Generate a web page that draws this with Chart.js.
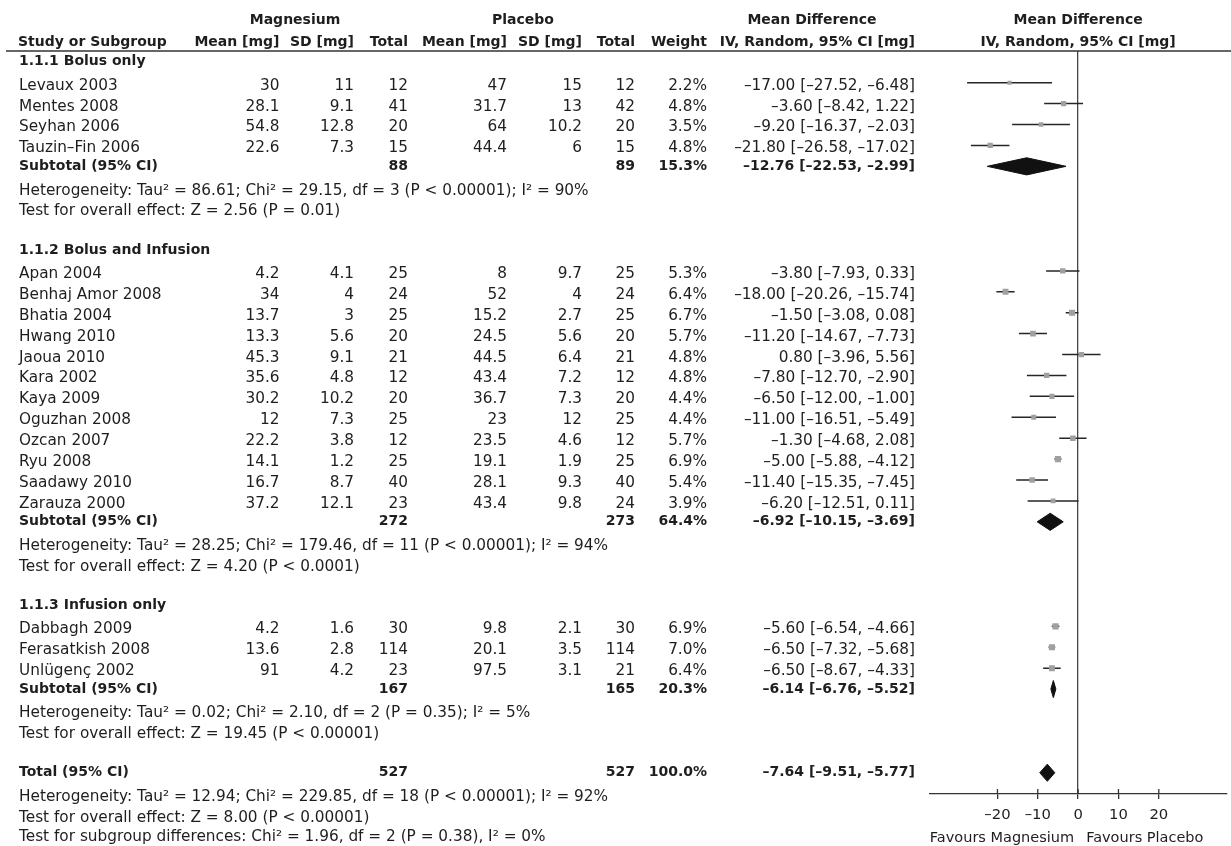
<!DOCTYPE html>
<html>
<head>
<meta charset="utf-8">
<script src="https://cdn.jsdelivr.net/npm/chart.js@4.4.1/dist/chart.umd.min.js"></script>
<style>
  html, body { margin: 0; padding: 0; background: #fff; }
  #forest { display: block; }
</style>
</head>
<body>
<canvas id="forest" width="1231" height="846"></canvas>
<script>
// --- data ---
const groupNames = ['1.1.1 Bolus only', '1.1.2 Bolus and Infusion', '1.1.3 Infusion only'];

const studies = ['Levaux 2003', 'Mentes 2008', 'Seyhan 2006', 'Tauzin–Fin 2006',
  'Apan 2004', 'Benhaj Amor 2008', 'Bhatia 2004', 'Hwang 2010', 'Jaoua 2010', 'Kara 2002',
  'Kaya 2009', 'Oguzhan 2008', 'Ozcan 2007', 'Ryu 2008', 'Saadawy 2010', 'Zarauza 2000',
  'Dabbagh 2009', 'Ferasatkish 2008', 'Unlügenç 2002'];
const studyGroup = [0, 0, 0, 0, 1, 1, 1, 1, 1, 1, 1, 1, 1, 1, 1, 1, 2, 2, 2];

const magMean = [30, 28.1, 54.8, 22.6, 4.2, 34, 13.7, 13.3, 45.3, 35.6, 30.2, 12, 22.2, 14.1, 16.7, 37.2, 4.2, 13.6, 91];
const magSD   = [11, 9.1, 12.8, 7.3, 4.1, 4, 3, 5.6, 9.1, 4.8, 10.2, 7.3, 3.8, 1.2, 8.7, 12.1, 1.6, 2.8, 4.2];
const magN    = [12, 41, 20, 15, 25, 24, 25, 20, 21, 12, 20, 25, 12, 25, 40, 23, 30, 114, 23];
const plaMean = [47, 31.7, 64, 44.4, 8, 52, 15.2, 24.5, 44.5, 43.4, 36.7, 23, 23.5, 19.1, 28.1, 43.4, 9.8, 20.1, 97.5];
const plaSD   = [15, 13, 10.2, 6, 9.7, 4, 2.7, 5.6, 6.4, 7.2, 7.3, 12, 4.6, 1.9, 9.3, 9.8, 2.1, 3.5, 3.1];
const plaN    = [12, 42, 20, 15, 25, 24, 25, 20, 21, 12, 20, 25, 12, 25, 40, 24, 30, 114, 21];
const weight  = [2.2, 4.8, 3.5, 4.8, 5.3, 6.4, 6.7, 5.7, 4.8, 4.8, 4.4, 4.4, 5.7, 6.9, 5.4, 3.9, 6.9, 7.0, 6.4];
const md      = [-17.00, -3.60, -9.20, -21.80, -3.80, -18.00, -1.50, -11.20, 0.80, -7.80, -6.50, -11.00, -1.30, -5.00, -11.40, -6.20, -5.60, -6.50, -6.50];
const ciLow   = [-27.52, -8.42, -16.37, -26.58, -7.93, -20.26, -3.08, -14.67, -3.96, -12.70, -12.00, -16.51, -4.68, -5.88, -15.35, -12.51, -6.54, -7.32, -8.67];
const ciHigh  = [-6.48, 1.22, -2.03, -17.02, 0.33, -15.74, 0.08, -7.73, 5.56, -2.90, -1.00, -5.49, 2.08, -4.12, -7.45, 0.11, -4.66, -5.68, -4.33];

const subMagN   = [88, 272, 167];
const subPlaN   = [89, 273, 165];
const subWeight = [15.3, 64.4, 20.3];
const subMD     = [-12.76, -6.92, -6.14];
const subLow    = [-22.53, -10.15, -6.76];
const subHigh   = [-2.99, -3.69, -5.52];
const subTau2   = [86.61, 28.25, 0.02];
const subChi2   = [29.15, 179.46, 2.10];
const subDf     = [3, 11, 2];
const subPHet   = ['< 0.00001', '< 0.00001', '= 0.35'];
const subI2     = [90, 94, 5];
const subZ      = [2.56, 4.20, 19.45];
const subPZ     = ['= 0.01', '< 0.0001', '< 0.00001'];

const totMagN = 527, totPlaN = 527, totWeight = 100.0;
const totMD = -7.64, totLow = -9.51, totHigh = -5.77;
const totTau2 = 12.94, totChi2 = 229.85, totDf = 18, totPHet = '< 0.00001', totI2 = 92;
const totZ = 8.00, totPZ = '< 0.00001';
const diffChi2 = 1.96, diffDf = 2, diffP = '= 0.38', diffI2 = 0;

const xTicks = [-20, -10, 0, 10, 20];

// --- helpers ---
const dash = s => String(s).replace(/-/g, '–');
const f2 = v => dash(v.toFixed(2));
const ciText = (m, l, h) => `${f2(m)} [${f2(l)}, ${f2(h)}]`;
const hetText = (t, c, d, p, i) =>
  `Heterogeneity: Tau² = ${t.toFixed(2)}; Chi² = ${c.toFixed(2)}, df = ${d} (P ${p}); I² = ${i}%`;
const zText = (z, p) => `Test for overall effect: Z = ${z.toFixed(2)} (P ${p})`;

// row layout (one unit per table line)
const rows = [];
let r = 0;
groupNames.forEach((g, gi) => {
  rows.push({ r: r++, kind: 'head', gi });
  studies.forEach((s, i) => { if (studyGroup[i] === gi) rows.push({ r: r++, kind: 'study', i }); });
  rows.push({ r: r++, kind: 'sub', gi });
  rows.push({ r: r++, kind: 'het', gi });
  rows.push({ r: r++, kind: 'test', gi });
  r++;
});
rows.push({ r: r++, kind: 'total' });
rows.push({ r: r++, kind: 'totHet' });
rows.push({ r: r++, kind: 'totTest' });
rows.push({ r: r++, kind: 'diff' });

const studyRow = [];
const subRow = [];
let totalRow = 0;
rows.forEach(o => {
  if (o.kind === 'study') studyRow[o.i] = o.r;
  if (o.kind === 'sub') subRow[o.gi] = o.r;
  if (o.kind === 'total') totalRow = o.r;
});

// datasets
const squareData = studies.map((s, i) => ({ x: md[i], y: studyRow[i] }));
const squareSize = weight.map(w => (3.2 + w * 0.42) / Math.SQRT2);

const ciData = [];
studies.forEach((s, i) => {
  ciData.push({ x: ciLow[i], y: studyRow[i] }, { x: ciHigh[i], y: studyRow[i] }, { x: null, y: null });
});

const diamondHalf = 0.41;
function diamond(m, l, h, row) {
  return {
    type: 'scatter',
    data: [
      { x: l, y: row }, { x: m, y: row - diamondHalf }, { x: h, y: row },
      { x: m, y: row + diamondHalf }, { x: l, y: row }
    ],
    showLine: true,
    fill: 'shape',
    borderColor: '#111',
    backgroundColor: '#111',
    borderWidth: 1,
    pointRadius: 0,
    tension: 0,
    order: 2
  };
}

const datasets = [
  {
    type: 'scatter',
    data: squareData,
    pointStyle: 'rect',
    pointRadius: squareSize,
    backgroundColor: '#a0a0a0',
    borderWidth: 0,
    order: 0
  },
  {
    type: 'scatter',
    data: ciData,
    showLine: true,
    spanGaps: false,
    borderColor: '#262626',
    borderWidth: 1.5,
    pointRadius: 0,
    order: 1
  }
];
subMD.forEach((m, gi) => datasets.push(diamond(m, subLow[gi], subHigh[gi], subRow[gi])));
datasets.push(diamond(totMD, totLow, totHigh, totalRow));

// --- table drawn on the same canvas, aligned with the y scale ---
const FONT = "'DejaVu Sans'";
const REG = 15.3;
const colRight = { magMean: 279.5, magSD: 354, magN: 408, plaMean: 507, plaSD: 582, plaN: 635, weight: 707, ci: 915 };
const leftX = 19;

const tablePlugin = {
  id: 'forestTable',
  afterDraw(chart) {
    const ctx = chart.ctx;
    const y = chart.scales.y;
    const x = chart.scales.x;
    const x0 = x.getPixelForValue(0);
    ctx.save();
    ctx.fillStyle = '#1e1e1e';
    ctx.textBaseline = 'middle';

    const txt = (s, px, py, align, bold, size) => {
      ctx.font = (bold ? 'bold 14px ' : (size || REG) + 'px ') + FONT;
      ctx.textAlign = align || 'left';
      ctx.fillText(s, px, py);
    };

    // header
    txt('Magnesium', 295, 20, 'center', true);
    txt('Placebo', 523, 20, 'center', true);
    txt('Mean Difference', 812, 20, 'center', true);
    txt('Mean Difference', x0, 20, 'center', true);
    txt('Study or Subgroup', leftX - 1, 42, 'left', true);
    txt('Mean [mg]', colRight.magMean, 42, 'right', true);
    txt('SD [mg]', colRight.magSD, 42, 'right', true);
    txt('Total', colRight.magN, 42, 'right', true);
    txt('Mean [mg]', colRight.plaMean, 42, 'right', true);
    txt('SD [mg]', colRight.plaSD, 42, 'right', true);
    txt('Total', colRight.plaN, 42, 'right', true);
    txt('Weight', colRight.weight, 42, 'right', true);
    txt('IV, Random, 95% CI [mg]', colRight.ci, 42, 'right', true);
    txt('IV, Random, 95% CI [mg]', x0, 42, 'center', true);

    ctx.strokeStyle = '#333';
    ctx.lineWidth = 1.3;
    ctx.beginPath();
    ctx.moveTo(6, chart.chartArea.top);
    ctx.lineTo(chart.width, chart.chartArea.top);
    ctx.stroke();

    rows.forEach(o => {
      const py = y.getPixelForValue(o.r);
      const pr = py + 3;
      if (o.kind === 'head') {
        txt(groupNames[o.gi], leftX, py, 'left', true);
      } else if (o.kind === 'study') {
        const i = o.i;
        txt(studies[i], leftX, pr);
        txt(String(magMean[i]), colRight.magMean, pr, 'right');
        txt(String(magSD[i]), colRight.magSD, pr, 'right');
        txt(String(magN[i]), colRight.magN, pr, 'right');
        txt(String(plaMean[i]), colRight.plaMean, pr, 'right');
        txt(String(plaSD[i]), colRight.plaSD, pr, 'right');
        txt(String(plaN[i]), colRight.plaN, pr, 'right');
        txt(weight[i].toFixed(1) + '%', colRight.weight, pr, 'right');
        txt(ciText(md[i], ciLow[i], ciHigh[i]), colRight.ci, pr, 'right');
      } else if (o.kind === 'sub') {
        const g = o.gi;
        txt('Subtotal (95% CI)', leftX, py, 'left', true);
        txt(String(subMagN[g]), colRight.magN, py, 'right', true);
        txt(String(subPlaN[g]), colRight.plaN, py, 'right', true);
        txt(subWeight[g].toFixed(1) + '%', colRight.weight, py, 'right', true);
        txt(ciText(subMD[g], subLow[g], subHigh[g]), colRight.ci, py, 'right', true);
      } else if (o.kind === 'het') {
        const g = o.gi;
        txt(hetText(subTau2[g], subChi2[g], subDf[g], subPHet[g], subI2[g]), leftX, pr + 0.5);
      } else if (o.kind === 'test') {
        txt(zText(subZ[o.gi], subPZ[o.gi]), leftX, pr);
      } else if (o.kind === 'total') {
        txt('Total (95% CI)', leftX, py, 'left', true);
        txt(String(totMagN), colRight.magN, py, 'right', true);
        txt(String(totPlaN), colRight.plaN, py, 'right', true);
        txt(totWeight.toFixed(1) + '%', colRight.weight, py, 'right', true);
        txt(ciText(totMD, totLow, totHigh), colRight.ci, py, 'right', true);
      } else if (o.kind === 'totHet') {
        txt(hetText(totTau2, totChi2, totDf, totPHet, totI2), leftX, pr + 0.5);
      } else if (o.kind === 'totTest') {
        txt(zText(totZ, totPZ), leftX, pr);
      } else if (o.kind === 'diff') {
        txt(`Test for subgroup differences: Chi² = ${diffChi2.toFixed(2)}, df = ${diffDf} (P ${diffP}), I² = ${diffI2}%`, leftX, pr - 1);
      }
    });

    // upper half of the axis tick marks
    const axisY = chart.chartArea.bottom;
    ctx.strokeStyle = '#333';
    ctx.lineWidth = 1.3;
    xTicks.forEach(v => {
      const px = x.getPixelForValue(v);
      ctx.beginPath();
      ctx.moveTo(px, axisY);
      ctx.lineTo(px, axisY - 5);
      ctx.stroke();
    });

    txt('Favours Magnesium', x0 - 4, 838, 'right', false, 14.5);
    txt('Favours Placebo', x0 + 8, 838, 'left', false, 14.5);
    ctx.restore();
  }
};

new Chart(document.getElementById('forest'), {
  type: 'scatter',
  data: { datasets },
  options: {
    responsive: false,
    animation: false,
    devicePixelRatio: 1,
    layout: { padding: { left: 930, right: 0, top: 51, bottom: 22 } },
    plugins: { legend: { display: false }, tooltip: { enabled: false } },
    scales: {
      x: {
        type: 'linear',
        position: 'bottom',
        min: -36.72,
        max: 36.82,
        afterBuildTicks: s => { s.ticks = xTicks.map(v => ({ value: v })); },
        afterFit: s => { s.height = 30; },
        ticks: {
          autoSkip: false,
          maxRotation: 0,
          padding: 7,
          color: '#1e1e1e',
          font: { family: 'DejaVu Sans', size: 14.8 },
          callback: v => (v < 0 ? '–' + Math.abs(v) : String(v))
        },
        grid: {
          color: c => (c.tick && c.tick.value === 0 ? '#444' : 'rgba(0,0,0,0)'),
          lineWidth: 1.3,
          tickLength: 5,
          tickColor: '#333',
          drawTicks: true
        },
        border: { display: true, color: '#333', width: 1.3 }
      },
      y: {
        type: 'linear',
        display: false,
        reverse: true,
        min: -0.516,
        max: 35.017
      }
    }
  },
  plugins: [tablePlugin]
});
</script>
</body>
</html>
